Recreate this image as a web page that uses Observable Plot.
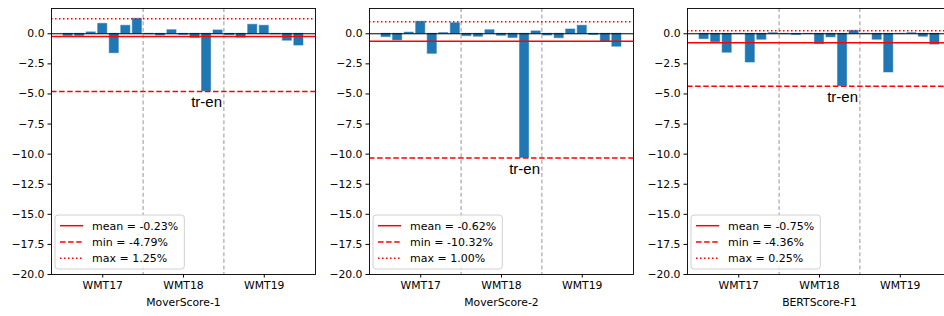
<!DOCTYPE html>
<html><head><meta charset="utf-8">
<script src="https://cdn.jsdelivr.net/npm/d3@7"></script>
<script src="https://cdn.jsdelivr.net/npm/@observablehq/plot@0.6"></script>
<style>
html,body{margin:0;padding:0;background:#fff;overflow:hidden;width:944px;height:316px}
#fig{position:relative;width:944px;height:316px;overflow:hidden}
.panel{position:absolute;top:0;width:318px;height:316px}
.panel svg{max-width:none !important;display:block;font-family:'DejaVu Sans',sans-serif !important}
.panel svg text.lbl{font-family:'DejaVu Sans',sans-serif}
</style></head><body><div id="fig"></div>
<script>
// ---- data ----
const pairs = [
  "cs-en","de-en","fi-en","lv-en","ru-en","tr-en","zh-en",
  "cs-en","de-en","et-en","fi-en","ru-en","tr-en","zh-en",
  "de-en","fi-en","gu-en","kk-en","lt-en","ru-en","zh-en"
];
const groups = ["WMT17","WMT18","WMT19"];
const groupTicks = [3, 10, 17];
const groupSeparators = [6.5, 13.5];
const metrics = ["MoverScore-1","MoverScore-2","BERTScore-F1"];
const moverScore1 = [
  -0.18,-0.18,0.12,0.83,-1.62,0.67,1.25,
  -0.05,-0.15,0.30,-0.10,-0.35,-4.79,0.28,
  -0.12,-0.33,0.75,0.67,-0.05,-0.58,-0.98
];
const moverScore2 = [
  -0.28,-0.55,0.10,1.00,-1.67,0.06,0.88,
  -0.20,-0.25,0.30,-0.17,-0.35,-10.32,0.20,
  -0.15,-0.37,0.36,0.67,-0.10,-0.67,-1.08
];
const bertScoreF1 = [
  -0.45,-0.70,-1.58,-0.02,-2.39,-0.50,0.05,
  -0.03,-0.10,-0.02,-0.86,-0.30,-4.36,0.25,
  -0.02,-0.50,-3.22,-0.02,0.05,-0.25,-0.90
];
const series = [moverScore1, moverScore2, bertScoreF1];
const means = [-0.23, -0.62, -0.75];
const mins = [-4.79, -10.32, -4.36];
const maxs = [1.25, 1.00, 0.25];
const yTicks = [0, -2.5, -5, -7.5, -10, -12.5, -15, -17.5, -20];

// ---- drawing ----
const W = 318, H = 316, ML = 51, MR = 3, MT = 8, MB = 42;
const FONT = "'DejaVu Sans', sans-serif";
const fig = document.getElementById("fig");

function makePanel(i) {
  const values = series[i];
  const data = values.map((v, j) => ({idx: j, v, pair: pairs[j]}));
  const minIdx = d3.minIndex(values);
  const svg = Plot.plot({
    width: W, height: H,
    marginLeft: ML, marginRight: MR, marginTop: MT, marginBottom: MB,
    style: {fontFamily: FONT, fontSize: "10.8px", color: "#000", background: "transparent"},
    x: {type: "linear", domain: [-1.44, 21.44]},
    y: {type: "linear", domain: [-20, 2.1]},
    marks: [
      Plot.rect(data, {x1: d => d.idx - 0.4, x2: d => d.idx + 0.4, y1: 0, y2: "v",
        fill: "#1f77b4", stroke: "#1f77b4", strokeOpacity: 0.45, strokeWidth: 1}),
      Plot.ruleX(groupSeparators, {x: d => d, stroke: "#a8a8a8", strokeWidth: 1.2, strokeDasharray: "4,2.6"}),
      Plot.ruleY([0], {y: d => d, stroke: "#000", strokeWidth: 1}),
      Plot.ruleY([means[i]], {y: d => d, stroke: "red", strokeWidth: 1.5}),
      Plot.ruleY([mins[i]], {y: d => d, stroke: "red", strokeWidth: 1.5, strokeDasharray: "5.5,2.6"}),
      Plot.ruleY([maxs[i]], {y: d => d, stroke: "red", strokeWidth: 1.5, strokeDasharray: "1.5,2.5"}),
      Plot.text([minIdx], {x: j => j, y: j => values[j], text: j => pairs[j],
        dy: 11, lineAnchor: "middle", fontFamily: "'Liberation Sans', Arial, sans-serif", fontSize: 15, fill: "#000"}),
      Plot.frame({stroke: "#000", strokeWidth: 0.9}),
      Plot.axisX({ticks: groupTicks, tickFormat: d => groups[groupTicks.indexOf(d)],
        tickSize: 3.5, tickPadding: 3.5, label: null, stroke: "#000"}),
      Plot.axisY({ticks: yTicks, tickFormat: d3.format(".1f"),
        tickSize: 3.5, tickPadding: 3.5, label: null, stroke: "#000"}),
      Plot.text([metrics[i]], {text: d => d, frameAnchor: "bottom", dy: 28, lineAnchor: "middle", fill: "#000"})
    ]
  });
  const wrap = document.createElement("div");
  wrap.className = "panel";
  wrap.style.left = (i * W) + "px";
  wrap.appendChild(svg);
  fig.appendChild(wrap);

  // legend (inside lower-left of the axes)
  const s = d3.select(svg);
  const g = s.append("g").attr("font-size", "11px").attr("text-anchor", "start");
  const x0 = ML + 4, boxBottom = H - MB - 5, boxH = 54;
  const rect = g.append("rect").attr("x", x0).attr("y", boxBottom - boxH)
    .attr("height", boxH).attr("rx", 3).attr("fill", "#fff").attr("fill-opacity", 0.8)
    .attr("stroke", "#d0d0d0").attr("stroke-width", 1);
  const entries = [
    {label: `mean = ${means[i].toFixed(2)}%`, dash: null},
    {label: `min = ${mins[i].toFixed(2)}%`, dash: "5.5,2.6"},
    {label: `max = ${maxs[i].toFixed(2)}%`, dash: "1.5,2.5"}
  ];
  let maxRight = 0;
  entries.forEach((e, k) => {
    const y = boxBottom - boxH + 10.7 + k * 16.3;
    const ln = g.append("line").attr("x1", x0 + 5).attr("x2", x0 + 28).attr("y1", y).attr("y2", y)
      .attr("stroke", "red").attr("stroke-width", 1.5);
    if (e.dash) ln.attr("stroke-dasharray", e.dash);
    const t = g.append("text").attr("class", "lbl").attr("x", x0 + 37).attr("y", y).attr("dy", "0.36em")
      .attr("text-anchor", "start").attr("fill", "#000").text(e.label);
    const bb = t.node().getBBox();
    maxRight = Math.max(maxRight, bb.x + bb.width);
  });
  rect.attr("width", maxRight + 6 - x0);
}

[0, 1, 2].forEach(makePanel);
</script>
</body></html>
